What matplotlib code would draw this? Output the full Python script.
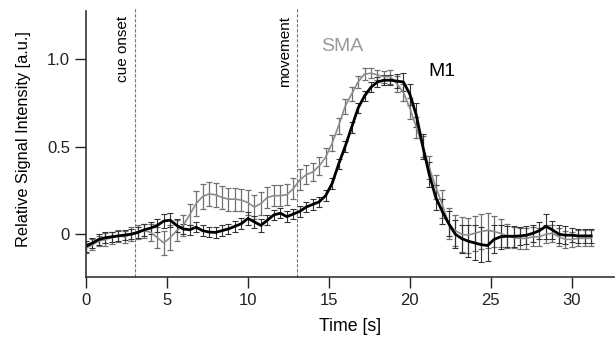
import matplotlib.pyplot as plt

plt.rcParams['font.family'] = ['Liberation Sans', 'DejaVu Sans']

time_s = [0.0, 0.4, 0.8, 1.2, 1.6, 2.0, 2.4, 2.8, 3.2, 3.6, 4.0, 4.4, 4.8, 5.2, 5.6, 6.0,
          6.4, 6.8, 7.2, 7.6, 8.0, 8.4, 8.8, 9.2, 9.6, 10.0, 10.4, 10.8, 11.2, 11.6, 12.0,
          12.4, 12.8, 13.2, 13.6, 14.0, 14.4, 14.8, 15.2, 15.6, 16.0, 16.4, 16.8, 17.2,
          17.6, 18.0, 18.4, 18.8, 19.2, 19.6, 20.0, 20.4, 20.8, 21.2, 21.6, 22.0, 22.4,
          22.8, 23.2, 23.6, 24.0, 24.4, 24.8, 25.2, 25.6, 26.0, 26.4, 26.8, 27.2, 27.6,
          28.0, 28.4, 28.8, 29.2, 29.6, 30.0, 30.4, 30.8, 31.2]

m1 = [-0.07, -0.05, -0.03, -0.02, -0.015, -0.01, -0.005, 0.0, 0.01, 0.025, 0.035, 0.05,
      0.075, 0.08, 0.05, 0.03, 0.025, 0.04, 0.02, 0.012, 0.01, 0.02, 0.03, 0.045, 0.06,
      0.09, 0.07, 0.05, 0.08, 0.11, 0.12, 0.10, 0.115, 0.13, 0.155, 0.17, 0.185, 0.22,
      0.29, 0.40, 0.50, 0.61, 0.72, 0.79, 0.84, 0.87, 0.88, 0.88, 0.875, 0.87, 0.80,
      0.68, 0.50, 0.34, 0.21, 0.13, 0.06, 0.0, -0.025, -0.04, -0.05, -0.06, -0.065,
      -0.03, -0.015, -0.012, -0.012, -0.01, -0.006, 0.005, 0.02, 0.045, 0.025, 0.0,
      -0.006, -0.006, -0.01, -0.01, -0.01]

m1_err = [0.03, 0.03, 0.03, 0.03, 0.03, 0.03, 0.03, 0.03, 0.03, 0.035, 0.035, 0.035,
          0.04, 0.04, 0.035, 0.03, 0.03, 0.03, 0.03, 0.03, 0.03, 0.03, 0.03, 0.03, 0.03,
          0.035, 0.035, 0.035, 0.03, 0.03, 0.03, 0.03, 0.03, 0.03, 0.03, 0.03, 0.03, 0.03,
          0.03, 0.03, 0.03, 0.03, 0.03, 0.03, 0.03, 0.03, 0.03, 0.03, 0.04, 0.05, 0.06,
          0.07, 0.07, 0.07, 0.07, 0.07, 0.07, 0.08, 0.08, 0.09, 0.1, 0.1, 0.09, 0.08,
          0.07, 0.06, 0.06, 0.05, 0.05, 0.05, 0.05, 0.07, 0.05, 0.05, 0.05, 0.04, 0.04,
          0.04, 0.04]

sma = [-0.08, -0.06, -0.04, -0.03, -0.02, -0.01, -0.015, 0.0, 0.015, 0.02, 0.01, -0.02,
       -0.05, -0.02, 0.02, 0.05, 0.11, 0.175, 0.215, 0.23, 0.225, 0.21, 0.20, 0.20, 0.195,
       0.18, 0.155, 0.175, 0.21, 0.22, 0.22, 0.225, 0.26, 0.31, 0.34, 0.355, 0.39, 0.44,
       0.52, 0.62, 0.73, 0.80, 0.87, 0.915, 0.92, 0.91, 0.90, 0.90, 0.86, 0.81, 0.72,
       0.61, 0.50, 0.38, 0.27, 0.17, 0.06, 0.02, 0.0, -0.006, 0.005, 0.015, 0.022, 0.015,
       0.005, -0.01, -0.02, -0.024, -0.024, -0.015, -0.015, 0.0, 0.005, -0.015, -0.03,
       -0.03, -0.024, -0.024, -0.024]

sma_err = [0.03, 0.03, 0.03, 0.035, 0.035, 0.035, 0.035, 0.04, 0.04, 0.04, 0.05, 0.06,
           0.07, 0.07, 0.06, 0.06, 0.06, 0.07, 0.07, 0.07, 0.07, 0.065, 0.065, 0.065,
           0.065, 0.07, 0.07, 0.065, 0.06, 0.06, 0.06, 0.06, 0.06, 0.06, 0.055, 0.05,
           0.05, 0.05, 0.045, 0.045, 0.045, 0.04, 0.035, 0.035, 0.03, 0.03, 0.035, 0.04,
           0.045, 0.05, 0.06, 0.06, 0.06, 0.065, 0.07, 0.08, 0.09, 0.09, 0.1, 0.1, 0.1,
           0.1, 0.1, 0.09, 0.08, 0.07, 0.06, 0.06, 0.06, 0.055, 0.05, 0.05, 0.05, 0.05,
           0.05, 0.045, 0.045, 0.045, 0.045]

events = [3, 13]
event_labels = ["cue onset", "movement"]

fig = plt.figure(figsize=(6.16, 3.37), dpi=100)
ax = fig.add_axes([0.1396, 0.178, 0.857, 0.789])

ax.errorbar(time_s, sma, yerr=sma_err, color="#8c8c8c", ecolor="#707070", lw=1.2,
            elinewidth=0.9, capsize=2.5, capthick=0.9)
ax.errorbar(time_s, m1, yerr=m1_err, color="black", ecolor="#333333", lw=2.0,
            elinewidth=0.8, capsize=2.5, capthick=0.8)

for x, lab in zip(events, event_labels):
    ax.plot([x, x], [-0.245, 1.295], ls=(0, (3, 1.5)), color="#777777", lw=0.8, clip_on=False)
    ax.text(x - 0.72, 1.245, lab, rotation=90, ha="center", va="top", fontsize=11)

ax.text(15.8, 1.074, "SMA", color="#9a9a9a", fontsize=14, ha="center", va="center")
ax.text(22.0, 0.93, "M1", color="black", fontsize=14, ha="center", va="center")

ax.set_xlim(0, 32.6)
ax.set_ylim(-0.245, 1.275)
ax.set_xticks([0, 5, 10, 15, 20, 25, 30])
ax.set_yticks([0, 0.5, 1.0])
ax.set_yticklabels(["0", "0.5", "1.0"])
ax.tick_params(direction="out", length=8, width=1, labelsize=12, colors="#222222")
for s in ["top", "right"]:
    ax.spines[s].set_visible(False)
for s in ["left", "bottom"]:
    ax.spines[s].set_linewidth(1.2)
    ax.spines[s].set_color("#333333")

ax.set_xlabel("Time [s]", fontsize=12.8)
ax.set_ylabel("Relative Signal Intensity [a.u.]", fontsize=11.8)
ax.yaxis.set_label_coords(-0.104, 0.52)
ax.xaxis.set_label_coords(0.5, -0.155)

plt.savefig("out.png", dpi=100)
